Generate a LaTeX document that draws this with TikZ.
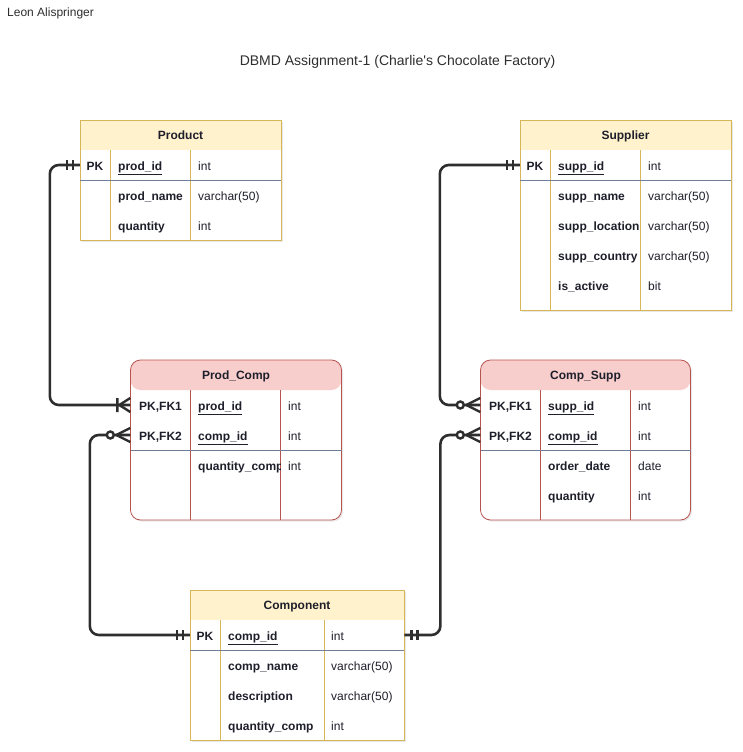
\documentclass[tikz,border=0pt]{standalone}
\usepackage{fontspec}
\setmainfont{Liberation Sans}
\usetikzlibrary{shadows}
\definecolor{erink}{HTML}{2E2E2E}
\definecolor{ertext}{HTML}{1F1F2C}
\definecolor{ylwfill}{HTML}{FFF2CC}
\definecolor{ylwline}{HTML}{D6B656}
\definecolor{redfill}{HTML}{F8CECC}
\definecolor{redline}{HTML}{B85450}
\definecolor{sepline}{HTML}{6F7D96}
\newcommand\erfont{\fontsize{12}{14}\selectfont}
\tikzset{
  tbl/.style={draw, fill=white, line width=0.8pt, inner sep=0pt, drop shadow={opacity=0.18, shadow xshift=1.5pt, shadow yshift=-1.5pt}},
  ytbl/.style={tbl, draw=ylwline, path picture={\fill[ylwfill] (path picture bounding box.north west) rectangle ([yshift=-30pt]path picture bounding box.north east);}},
  rtbl/.style={tbl, draw=redline, rounded corners=10pt, path picture={\fill[redfill] (path picture bounding box.north west) rectangle ([yshift=-30pt]path picture bounding box.north east);}},
  hdr/.style={font=\erfont\bfseries, inner sep=0pt, text height=10, text depth=2, text=ertext},
  key/.style={font=\erfont\bfseries, inner sep=0pt, minimum height=30, text height=12, text depth=2, text=ertext},
  fld/.style={anchor=west, font=\erfont\bfseries, inner sep=0pt, text height=12, text depth=2, text=ertext},
  typ/.style={anchor=west, font=\erfont, inner sep=0pt, text height=12, text depth=2, text=ertext},
  note/.style={inner sep=0pt, text=erink},
  ycol/.style={draw=ylwline, line width=0.8pt},
  rcol/.style={draw=redline, line width=0.8pt},
  sep/.style={draw=sepline, line width=0.8pt},
  rel/.style={draw=erink, line width=2.6pt, rounded corners=9pt},
  erlinks/.style={draw=erink, line width=2.4pt},
  mandone/.pic={\draw[erlinks] (-13,-5) -- (-13,5) (-7,-5) -- (-7,5);},
  onemany/.pic={\draw[erlinks] (-13,-7) -- (-13,7) (-11,0) -- (0,-7) (-11,0) -- (0,7);},
  zeromany/.pic={\draw[erlinks] (-14,0) -- (0,-7) (-14,0) -- (0,7); \draw[erlinks, fill=white] (-20,0) circle (3.5);},
}
\begin{document}
\begin{tikzpicture}[x=1pt, y=-1pt, font=\erfont]
  \useasboundingbox (0,0) rectangle (742,752);
  \node[note, anchor=west] (author) at (7,13) {Leon Alispringer};
  \node[note, font=\fontsize{14}{16}\selectfont] (title) at (397.5,62) {DBMD Assignment-1 (Charlie\textquotesingle s Chocolate Factory)};
  % Product
  \node[ytbl, minimum width=201, minimum height=120] (product) at (180.5,180) {};
  \node[hdr] (product-h) at (180.5,135) {Product};
  \draw[ycol] (110,150) -- (110,240) (190,150) -- (190,240);
  \draw[sep] (80,180) -- (281,180);
  \node[key, minimum width=30] (prodpk) at (95,165) {PK};
  \node[fld] (prodid) at (118,165) {\underline{prod\_id}};
  \node[typ] (prodidt) at (198,165) {int};
  \foreach \y/\f/\t in {195/prod\_name/varchar(50), 225/quantity/int} {
    \node[fld] (prodf\y) at (118,\y) {\f};
    \node[typ] (prodt\y) at (198,\y) {\t};
  }
  % Supplier
  \node[ytbl, minimum width=211, minimum height=190] (supplier) at (625.5,215) {};
  \node[hdr] (supplier-h) at (625.5,135) {Supplier};
  \draw[ycol] (550,150) -- (550,310) (640,150) -- (640,310);
  \draw[sep] (520,180) -- (731,180);
  \node[key, minimum width=30] (supppk) at (535,165) {PK};
  \node[fld] (suppid) at (558,165) {\underline{supp\_id}};
  \node[typ] (suppidt) at (648,165) {int};
  \foreach \y/\f/\t in {195/supp\_name/varchar(50), 225/supp\_location/varchar(50), 255/supp\_country/varchar(50), 285/is\_active/bit} {
    \node[fld] (suppf\y) at (558,\y) {\f};
    \node[typ] (suppt\y) at (648,\y) {\t};
  }
  % Prod_Comp
  \node[rtbl, minimum width=211, minimum height=160] (prodcomp) at (236,440) {};
  \node[hdr] (prodcomp-h) at (236,375) {Prod\_Comp};
  \draw[rcol] (190.5,390) -- (190.5,520) (280.5,390) -- (280.5,520);
  \draw[sep] (130.5,450) -- (341.5,450);
  \node[key, minimum width=60] (pcfk1) at (160.5,405) {PK,FK1};
  \node[key, minimum width=60] (pcfk2) at (160.5,435) {PK,FK2};
  \node[fld] (pcprod) at (198,405) {\underline{prod\_id}};
  \node[typ] (pcprodt) at (288,405) {int};
  \node[fld] (pccomp) at (198,435) {\underline{comp\_id}};
  \node[typ] (pccompt) at (288,435) {int};
  \begin{scope}
    \clip (190.5,450) rectangle (280,480);
    \node[fld] (pcqty) at (198,465) {quantity\_comp};
  \end{scope}
  \node[typ] (pcqtyt) at (288,465) {int};
  % Comp_Supp
  \node[rtbl, minimum width=210, minimum height=160] (compsupp) at (585.5,440) {};
  \node[hdr] (compsupp-h) at (585.5,375) {Comp\_Supp};
  \draw[rcol] (540.5,390) -- (540.5,520) (630.5,390) -- (630.5,520);
  \draw[sep] (480.5,450) -- (690.5,450);
  \node[key, minimum width=60] (csfk1) at (510.5,405) {PK,FK1};
  \node[key, minimum width=60] (csfk2) at (510.5,435) {PK,FK2};
  \node[fld] (cssupp) at (548,405) {\underline{supp\_id}};
  \node[typ] (cssuppt) at (638,405) {int};
  \node[fld] (cscomp) at (548,435) {\underline{comp\_id}};
  \node[typ] (cscompt) at (638,435) {int};
  \foreach \y/\f/\t in {465/order\_date/date, 495/quantity/int} {
    \node[fld] (csf\y) at (548,\y) {\f};
    \node[typ] (cst\y) at (638,\y) {\t};
  }
  % Component
  \node[ytbl, minimum width=214, minimum height=150] (component) at (297,665) {};
  \node[hdr] (component-h) at (297,605) {Component};
  \draw[ycol] (220,620) -- (220,740) (324,620) -- (324,740);
  \draw[sep] (190,650) -- (404,650);
  \node[key, minimum width=30] (comppk) at (205,635) {PK};
  \node[fld] (compid) at (228,635) {\underline{comp\_id}};
  \node[typ] (compidt) at (331,635) {int};
  \foreach \y/\f/\t in {665/comp\_name/varchar(50), 695/description/varchar(50), 725/quantity\_comp/int} {
    \node[fld] (compf\y) at (228,\y) {\f};
    \node[typ] (compt\y) at (331,\y) {\t};
  }
  % relationships
  \draw[rel] (prodpk.west) -- ++(-30,0) |- (pcfk1.west);
  \draw[rel] (pcfk2.west) -- ++(-40.5,0) |- (comppk.west);
  \draw[rel] (supppk.west) -- ++(-80,0) |- (csfk1.west);
  \draw[rel] (component.east |- comppk) -- ++(36,0) |- (csfk2.west);
  \pic at (prodpk.west) {mandone};
  \pic at (pcfk1.west) {onemany};
  \pic at (pcfk2.west) {zeromany};
  \pic at (comppk.west) {mandone};
  \pic at (supppk.west) {mandone};
  \pic at (csfk1.west) {zeromany};
  \pic at (csfk2.west) {zeromany};
  \pic[rotate=180] at (component.east |- comppk) {mandone};
\end{tikzpicture}
\end{document}
